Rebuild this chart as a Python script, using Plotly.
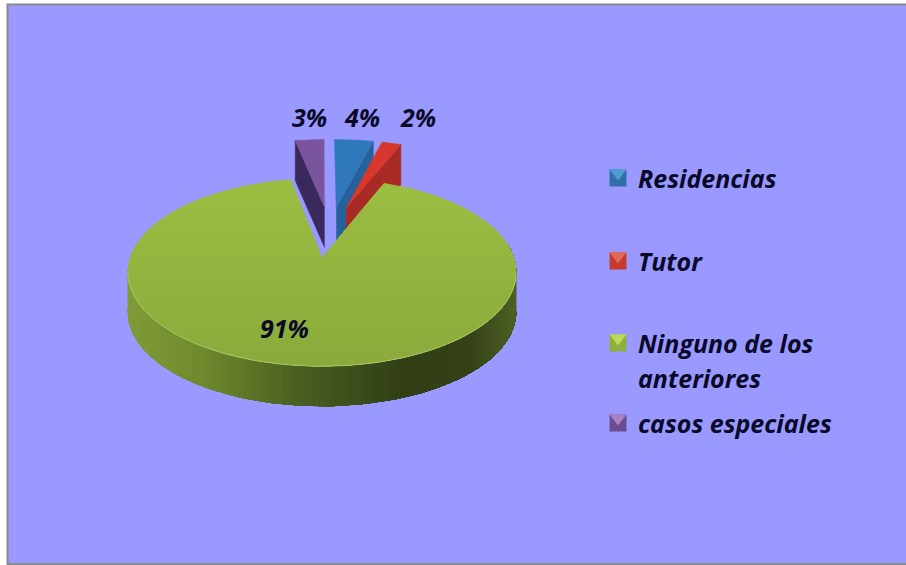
import numpy as np
import plotly.graph_objects as go

categories = ["Residencias", "Tutor", "Ninguno de los<br>anteriores", "casos especiales"]
values = [4, 2, 91, 3]

# look of the 3D pie (in pixels of the 906x565 canvas)
APEX_X, APEX_Y, RX, RY, PERSP, DEPTH, EXPLODE = 322, 258, 192, 92, 0.15, 40, 0.30
NUDGE = 0.015
TOP = ["#2F78BC", "#D8382C", None, "#7A559E"]
WALL = ["#27619C", "#A82A24", None, "#3A2A5C"]
BEVEL = ["#4F9AD0", "#E0685A", "#BBD85A", "#A583C4"]
SWATCH = ["#2F6FA8", "#C63A2E", "#8FAE3A", "#6A4C92"]
LEGEND_LINE_Y = [[178], [261], [343, 378], [423]]
INK = "#0A0A28"

fracs = np.array(values) / sum(values)
edges = np.concatenate([[0], np.cumsum(fracs)]) * 2 * np.pi
mids = (edges[:-1] + edges[1:]) / 2
GREEN = 2
centre = -EXPLODE * np.array([np.sin(mids[GREEN]), np.cos(mids[GREEN])])


def proj(X, Y):
    s = 1 / (1 + PERSP * np.asarray(Y))
    return APEX_X + RX * np.asarray(X) * s, APEX_Y - RY * np.asarray(Y) * s


def sector(i):
    a = centre + EXPLODE * np.array([np.sin(mids[i]), np.cos(mids[i])]) + np.array([NUDGE, 0])
    t = np.linspace(edges[i], edges[i + 1], max(6, int(values[i] * 6)))
    rx, ry = proj(a[0] + np.sin(t), a[1] + np.cos(t))
    ax, ay = proj(a[0], a[1])
    return float(ax), float(ay), rx, ry


def poly(fig, xs, ys, color, name=None, width=0.6):
    fig.add_trace(go.Scatter(
        x=list(xs), y=list(ys), mode="lines", fill="toself", fillcolor=color,
        line=dict(color=color, width=width), hoverinfo="skip", showlegend=False, name=name))


def clip_below(xs, ys, y0):
    """Part of a polygon that lies below the screen line y = y0."""
    ox, oy = [], []
    n = len(xs)
    for k in range(n):
        x1, y1, x2, y2 = xs[k], ys[k], xs[(k + 1) % n], ys[(k + 1) % n]
        if y1 >= y0:
            ox.append(x1)
            oy.append(y1)
        if (y1 >= y0) != (y2 >= y0):
            f = (y0 - y1) / (y2 - y1)
            ox.append(x1 + f * (x2 - x1))
            oy.append(y0)
    return ox, oy


def mix(c1, c2, f):
    return "#%02x%02x%02x" % tuple(int(round(a + (b - a) * f)) for a, b in zip(c1, c2))


fig = go.Figure()

# casos especiales: left cut face, then top
ax, ay, rx, ry = sector(3)
poly(fig, [ax, rx[0], rx[0], ax], [ay, ry[0], ry[0] + DEPTH, ay + DEPTH], WALL[3])
poly(fig, [ax, *rx], [ay, *ry], TOP[3], categories[3])

# Residencias: right cut face, then top
ax, ay, rx, ry = sector(0)
poly(fig, [ax, rx[-1], rx[-1], ax], [ay, ry[-1], ry[-1] + DEPTH, ay + DEPTH], WALL[0])
poly(fig, [ax, *rx], [ay, *ry], TOP[0], categories[0])

# Tutor: right cut face, then top
ax, ay, rx, ry = sector(1)
poly(fig, [ax, rx[-1], rx[-1], ax], [ay, ry[-1], ry[-1] + DEPTH, ay + DEPTH], WALL[1])
poly(fig, [ax, *rx], [ay, *ry], TOP[1], categories[1])

# Ninguno: outer wall with a left-to-right shading (nested, so no seams)
wall_stops = [(127, (128, 155, 56)), (200, (112, 138, 46)), (300, (74, 94, 32)),
              (400, (50, 63, 22)), (470, (52, 65, 24)), (515, (78, 96, 34))]
green_t = np.linspace(edges[GREEN], edges[GREEN + 1], 330)
wt = np.linspace(np.pi * 1.55, np.pi * 0.45, 150)
gx, gy = proj(np.sin(wt), np.cos(wt))
xsp = [w[0] for w in wall_stops]
for k in range(len(wt) - 1):
    xm = (gx[k] + gx[k + 1]) / 2
    col = [np.interp(xm, xsp, [w[1][c] for w in wall_stops]) for c in range(3)]
    poly(fig, [*gx[k:], *gx[k:][::-1]], [*gy[k:], *(gy[k:][::-1] + DEPTH)], mix(col, col, 0), width=0)

# Ninguno: top surface with a soft top-to-bottom shading
tx, ty = proj(np.sin(green_t), np.cos(green_t))
gpx, gpy = [APEX_X, *tx], [APEX_Y, *ty]
y_levels = np.linspace(float(min(gpy)), float(max(gpy)), 24)
for j, lv in enumerate(y_levels[:-1]):
    cx_, cy_ = clip_below(gpx, gpy, lv)
    poly(fig, cx_, cy_, mix((155, 190, 66), (139, 170, 60), j / 22), categories[GREEN], width=0)

# Light edge along the front of the rim
ft = np.linspace(np.pi * 0.55, np.pi * 1.45, 80)
fx, fy = proj(np.sin(ft), np.cos(ft))
fig.add_trace(go.Scatter(x=fx, y=fy, mode="lines", line=dict(color="#A9C760", width=1),
                         hoverinfo="skip", showlegend=False))

# Legend swatches
sw_x = [618] * 4
sw_y = [ys[0] for ys in LEGEND_LINE_Y]
fig.add_trace(go.Scatter(x=sw_x, y=sw_y, mode="markers",
                         marker=dict(symbol="square", size=17, color=SWATCH, line=dict(width=0)),
                         hoverinfo="skip", showlegend=False))
fig.add_trace(go.Scatter(x=sw_x, y=[y - 5 for y in sw_y], mode="markers",
                         marker=dict(symbol="triangle-down", size=15, color=BEVEL, line=dict(width=0)),
                         hoverinfo="skip", showlegend=False))

FONT = dict(family="Open Sans, Lato, sans-serif", size=25, color=INK, style="italic", weight=700)
ann = []
for name, ys in zip(categories, LEGEND_LINE_Y):
    for line, y in zip(name.split("<br>"), ys):
        ann.append(dict(x=636, y=y, text=line, xanchor="left", yanchor="middle", align="left",
                        showarrow=False, font=FONT, xref="x", yref="y"))
for v, (x, y) in zip(values, [(362, 117), (418, 117), (284, 328), (309, 117)]):
    ann.append(dict(x=x, y=y, text=f"{v}%", xanchor="center", yanchor="middle",
                    showarrow=False, font=FONT, xref="x", yref="y"))

fig.update_layout(
    width=906, height=565, margin=dict(l=0, r=0, t=0, b=0), autosize=False,
    paper_bgcolor="white", plot_bgcolor="white", showlegend=False,
    xaxis=dict(range=[0, 906], visible=False, fixedrange=True),
    yaxis=dict(range=[565, 0], visible=False, fixedrange=True),
    annotations=ann,
    shapes=[dict(type="rect", xref="x", yref="y", x0=7.5, y0=4.5, x1=912, y1=564,
                 fillcolor="#9999FF", line=dict(color="#8A8A8A", width=2), layer="below")],
)
fig.write_html("out.html", config={"displayModeBar": False},
               post_script="document.body.style.margin='0';document.documentElement.style.overflow='hidden';")
